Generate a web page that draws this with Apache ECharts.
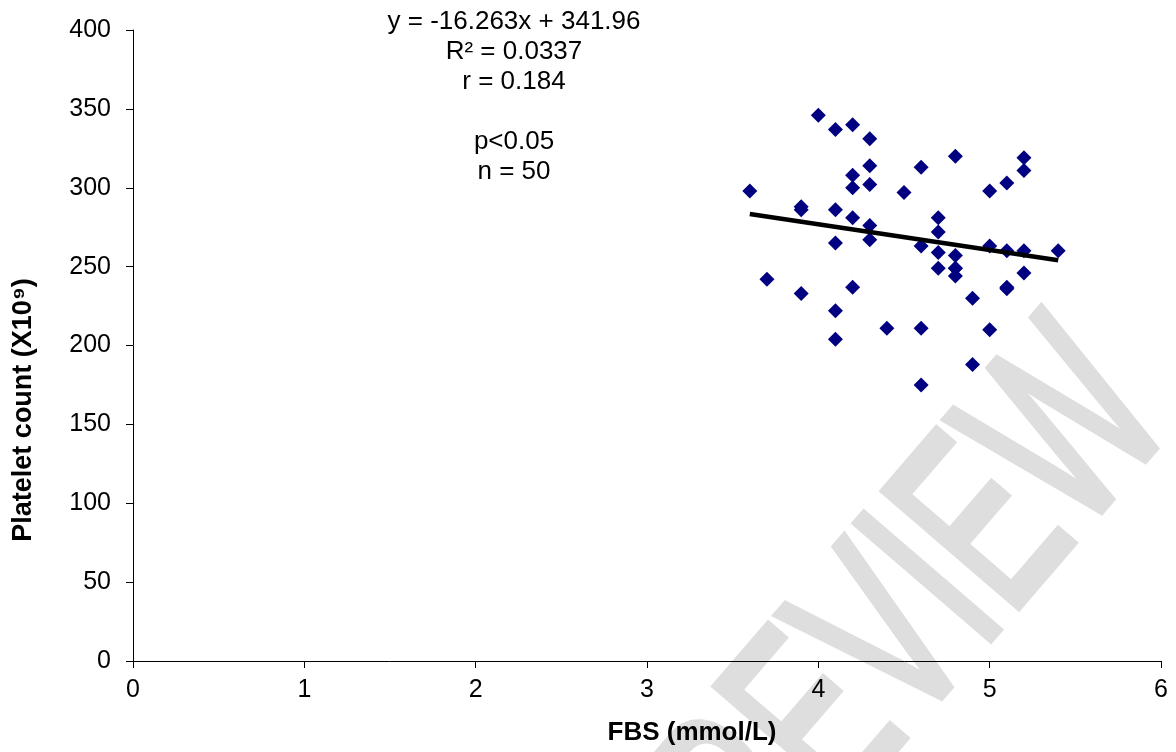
<!DOCTYPE html>
<html>
<head>
<meta charset="utf-8">
<script src="https://cdn.jsdelivr.net/npm/echarts@6/dist/echarts.min.js"></script>
<style>
  html, body { margin: 0; padding: 0; background: #fff; }
  #chart { width: 1176px; height: 752px; }
</style>
</head>
<body>
<div id="chart"></div>
<script>
// FBS (mmol/L) and platelet count
const fbs = [
  4.0, 4.1, 4.2, 4.3, 4.8, 5.2, 4.3, 4.6, 5.2, 4.2,
  5.1, 4.2, 4.3, 3.6, 4.5, 5.0, 3.9, 3.9, 4.1, 4.2,
  4.7, 4.3, 4.7, 4.1, 4.3, 4.6, 4.7, 4.8, 5.0, 5.1,
  5.2, 5.4, 4.7, 4.8, 4.8, 5.2, 3.7, 3.9, 4.2, 5.1,
  5.1, 4.9, 4.1, 4.4, 4.6, 5.0, 4.1, 4.9, 4.6, 4.8
]
const platelets = [
  346, 337, 340, 331, 320, 319, 314, 313, 311, 308,
  303, 300, 302, 298, 297, 298, 288, 286, 286, 281,
  281, 276, 272, 265, 267, 263, 259, 257, 263, 260,
  260, 260, 249, 249, 244, 246, 242, 233, 237, 237,
  236, 230, 222, 211, 211, 210, 204, 188, 175, 249
]
// trend line end points: y = -16.263x + 341.96
const trendX = [3.6, 5.4]
const trendY = [283.4, 254.1]
const xTicks = [0, 6, 1]
const yTicks = [0, 400, 50]

const notes = [
  'y = -16.263x + 341.96',
  'R² = 0.0337',
  'r = 0.184',
  '',
  'p<0.05',
  'n = 50'
]

const points = fbs.map((x, i) => [x, platelets[i]])
const trend = trendX.map((x, i) => [x, trendY[i]])

const chart = echarts.init(document.getElementById('chart'))
const font = 'Liberation Sans, Arial, sans-serif'
const axisText = { color: '#000', fontSize: 25, fontFamily: font }

chart.setOption({
  animation: false,
  grid: { left: 133, right: 15, top: 30, bottom: 91 },
  xAxis: {
    type: 'value',
    min: xTicks[0], max: xTicks[1], interval: xTicks[2],
    splitLine: { show: false },
    axisLine: { lineStyle: { color: '#000', width: 1 } },
    axisTick: { length: 7, lineStyle: { color: '#000' } },
    axisLabel: Object.assign({ margin: 17 }, axisText)
  },
  yAxis: {
    type: 'value',
    min: yTicks[0], max: yTicks[1], interval: yTicks[2],
    splitLine: { show: false },
    axisLine: { show: true, lineStyle: { color: '#000', width: 1 } },
    axisTick: { show: true, length: 7, lineStyle: { color: '#000' } },
    axisLabel: Object.assign({ margin: 22 }, axisText)
  },
  series: [
    {
      type: 'scatter',
      data: points,
      symbol: 'diamond',
      symbolSize: 15,
      itemStyle: { color: '#000080', opacity: 1 }
    },
    {
      type: 'line',
      data: trend,
      symbol: 'none',
      lineStyle: { color: '#000', width: 4.5 }
    }
  ],
  graphic: [
    {
      // watermark
      type: 'text',
      x: 642, y: 935,
      rotation: 0.86,
      scaleX: 0.62,
      z: -1,
      style: {
        text: 'PREVIEW',
        fill: '#dedede',
        stroke: '#dedede',
        lineWidth: 8,
        textVerticalAlign: 'middle',
        font: '258px ' + font
      }
    },
    {
      type: 'text',
      x: 514, y: 7,
      style: {
        text: notes.join('\n'),
        textAlign: 'center',
        fill: '#000',
        lineHeight: 30,
        font: '26px ' + font
      }
    },
    {
      type: 'text',
      x: 24, y: 410,
      rotation: Math.PI / 2,
      style: {
        text: 'Platelet count (X10⁹)',
        textAlign: 'center',
        textVerticalAlign: 'middle',
        fill: '#000',
        font: 'bold 27px ' + font
      }
    },
    {
      type: 'text',
      x: 692, y: 733,
      style: {
        text: 'FBS (mmol/L)',
        textAlign: 'center',
        textVerticalAlign: 'middle',
        fill: '#000',
        font: 'bold 26px ' + font
      }
    }
  ]
})
</script>
</body>
</html>
